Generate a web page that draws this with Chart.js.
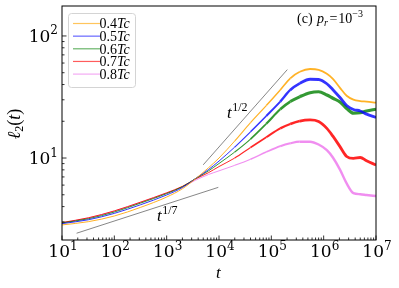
<!DOCTYPE html>
<html>
<head>
<meta charset="utf-8">
<script src="https://cdn.jsdelivr.net/npm/chart.js@4.4.0/dist/chart.umd.min.js"></script>
<style>
  html, body { margin: 0; padding: 0; background: #fff; }
</style>
</head>
<body>
<canvas id="chart" width="399" height="288"></canvas>
<script>
// time grid (x) and l2(t) for each temperature
const tValues = [10, 32, 100, 316, 1000, 2000, 3550, 6300, 1e4, 2e4, 4e4, 8e4, 1.48e5, 2.3e5,
  3.5e5, 5.5e5, 8e5, 1.15e6, 1.5e6, 2.05e6, 2.75e6, 3.7e6, 5e6, 6.6e6, 1e7];

const l2_04 = [2.83, 3.01, 3.35, 3.94, 4.79, 5.60, 6.76, 8.32, 10.0, 13.8, 19.5, 26.9, 36.1, 45,
  50.9, 53.6, 52.8, 49, 44.5, 37.6, 32.4, 30.1, 29.3, 29, 28.4];
const l2_05 = [2.90, 3.12, 3.52, 4.14, 4.98, 5.73, 6.78, 8.04, 9.44, 12.3, 16.4, 22.1, 29, 36.1,
  40.9, 44.2, 44, 40.6, 36.3, 31.3, 26.9, 25, 24.3, 22.9, 21.5];
const l2_06 = [2.94, 3.18, 3.61, 4.27, 5.11, 5.82, 6.78, 7.85, 9.02, 11.2, 14.3, 19.1, 25.1, 29,
  31.8, 34.3, 34.9, 32.8, 30.9, 28.8, 25.5, 23.3, 23.5, 24.3, 25.1];
const l2_07 = [2.96, 3.24, 3.69, 4.35, 5.19, 5.86, 6.73, 7.59, 8.51, 10, 12.2, 14.8, 17.5, 19,
  20.1, 20.5, 19.9, 17.5, 15.1, 12.4, 10.3, 9.93, 10.1, 9.51, 8.75];
const l2_08 = [2.95, 3.22, 3.67, 4.33, 5.16, 5.81, 6.58, 7.33, 7.85, 8.71, 9.77, 11.2, 12.5, 13.2,
  13.6, 13.6, 12.9, 11.6, 10.1, 8.04, 6.19, 5.15, 5.05, 4.98, 4.88];

const seriesLabels = ['0.4', '0.5', '0.6', '0.7', '0.8'];

// guide lines
const guideHalfT = [5000, 2.02e5];
const guideHalfV = [8.8, 53];
const guideSeventhT = [19, 9700];
const guideSeventhV = [2.42, 5.75];

// tick decades
const xDecades = [1, 2, 3, 4, 5, 6, 7];
const yDecades = [1, 2];

const colors = ['rgba(255,165,0,0.85)', 'rgba(0,0,255,0.8)', 'rgba(0,128,0,0.8)',
  'rgba(255,0,0,0.85)', 'rgba(238,130,238,0.9)'];
const noiseWidth = [1.8, 2.8, 3.2, 2.8, 2.4];

function pts(xs, ys) {
  return xs.map((x, i) => ({ x: x, y: ys[i] }));
}

function curve(label, values, i) {
  return {
    label: label,
    data: pts(tValues, values),
    borderColor: colors[i],
    borderWidth: 1,
    pointRadius: 0,
    cubicInterpolationMode: 'monotone',
    segment: {
      borderWidth: c => {
        const lt = Math.log10(c.p0.parsed.x);
        if (lt < 4.2) return 1;
        return Math.min(noiseWidth[i], 1 + (lt - 4.2) * (noiseWidth[i] - 1) / 1.3);
      }
    }
  };
}

function guide(xs, ys) {
  return {
    label: '',
    data: pts(xs, ys),
    borderColor: 'rgba(40,40,40,0.8)',
    borderWidth: 0.7,
    pointRadius: 0
  };
}

const serif = '"Liberation Serif", "Times New Roman", serif';
const tickFont = '"DejaVu Serif", serif';

function drawRuns(ctx, runs, x, y) {
  runs.forEach(r => {
    ctx.font = r.font;
    ctx.fillText(r.text, x, y + (r.dy || 0));
    x += ctx.measureText(r.text).width + (r.gap || 0);
  });
  return x;
}

function runsWidth(ctx, runs) {
  let w = 0;
  runs.forEach(r => { ctx.font = r.font; w += ctx.measureText(r.text).width + (r.gap || 0); });
  return w;
}

function powRuns(e) {
  return [{ text: '10', font: '17px ' + tickFont }, { text: String(e), font: '12px ' + tickFont, dy: -7.5 }];
}

const decorations = {
  id: 'decorations',
  afterDraw(chart) {
    const { ctx, chartArea: a, scales: { x, y } } = chart;
    ctx.save();
    ctx.fillStyle = '#000';
    ctx.strokeStyle = '#000';

    // inward ticks
    ctx.lineWidth = 0.8;
    for (let d = 0; d <= 7; d++) {
      for (let m = 1; m <= 9; m++) {
        const v = m * Math.pow(10, d);
        const len = m === 1 ? 4.5 : 2.5;
        if (v >= x.min && v <= x.max) {
          const px = x.getPixelForValue(v);
          ctx.beginPath(); ctx.moveTo(px, a.bottom); ctx.lineTo(px, a.bottom - len); ctx.stroke();
        }
        if (v >= y.min && v <= y.max) {
          const py = y.getPixelForValue(v);
          ctx.beginPath(); ctx.moveTo(a.left, py); ctx.lineTo(a.left + len, py); ctx.stroke();
        }
      }
    }

    // frame
    ctx.lineWidth = 1;
    ctx.strokeRect(a.left, a.top, a.right - a.left, a.bottom - a.top);

    // tick labels
    xDecades.forEach(e => {
      const runs = powRuns(e);
      const w = runsWidth(ctx, runs);
      drawRuns(ctx, runs, x.getPixelForValue(Math.pow(10, e)) - w / 2 + 1, 257);
    });
    yDecades.forEach(e => {
      const runs = powRuns(e);
      const w = runsWidth(ctx, runs);
      drawRuns(ctx, runs, a.left - 4 - w, y.getPixelForValue(Math.pow(10, e)) + 6);
    });

    // axis titles
    ctx.font = 'italic 17px ' + serif;
    ctx.fillText('t', (a.left + a.right) / 2 - 3, 278);

    const ylab = [
      { text: 'ℓ', font: 'italic 18px ' + serif },
      { text: '2', font: '12px ' + serif, dy: 3 },
      { text: '(', font: '18px ' + serif },
      { text: 't', font: 'italic 18px ' + serif },
      { text: ')', font: '18px ' + serif }
    ];
    ctx.save();
    ctx.translate(20, 124);
    ctx.rotate(-Math.PI / 2);
    drawRuns(ctx, ylab, -runsWidth(ctx, ylab) / 2, 0);
    ctx.restore();

    // guide annotations
    drawRuns(ctx, [{ text: 't', font: 'italic 17px ' + serif, gap: 0.5 },
      { text: '1/2', font: '12px ' + serif, dy: -7 }], 227, 118);
    drawRuns(ctx, [{ text: 't', font: 'italic 17px ' + serif, gap: 0.5 },
      { text: '1/7', font: '12px ' + serif, dy: -7 }], 157, 221);

    // panel label
    drawRuns(ctx, [
      { text: '(c) ', font: '14px ' + serif, gap: 1 },
      { text: 'p', font: 'italic 14px ' + serif },
      { text: 'r', font: 'italic 10px ' + serif, dy: 3, gap: 1.5 },
      { text: '=', font: '14px ' + serif, gap: 1 },
      { text: '10', font: '14px ' + serif },
      { text: '−3', font: '10px ' + serif, dy: -6 }
    ], 297, 23);

    // legend
    ctx.beginPath();
    ctx.roundRect(68.5, 13.5, 67, 74, 3);
    ctx.fillStyle = 'rgba(255,255,255,0.8)';
    ctx.fill();
    ctx.strokeStyle = '#d4d4d4';
    ctx.lineWidth = 1;
    ctx.stroke();
    seriesLabels.forEach((lab, i) => {
      const ry = 23.5 + i * 12.65;
      ctx.strokeStyle = colors[i];
      ctx.globalAlpha = 0.75;
      ctx.lineWidth = 1.2;
      ctx.beginPath(); ctx.moveTo(73, ry); ctx.lineTo(100, ry); ctx.stroke();
      ctx.globalAlpha = 1;
      ctx.fillStyle = '#000';
      drawRuns(ctx, [{ text: lab, font: '14px ' + serif },
        { text: 'Tc', font: 'italic 14px ' + serif }], 99.5, ry + 4.8);
    });
    ctx.restore();
  }
};

new Chart(document.getElementById('chart'), {
  type: 'line',
  data: {
    datasets: [
      curve(seriesLabels[0] + 'Tc', l2_04, 0),
      curve(seriesLabels[1] + 'Tc', l2_05, 1),
      curve(seriesLabels[2] + 'Tc', l2_06, 2),
      curve(seriesLabels[3] + 'Tc', l2_07, 3),
      curve(seriesLabels[4] + 'Tc', l2_08, 4),
      guide(guideHalfT, guideHalfV),
      guide(guideSeventhT, guideSeventhV)
    ]
  },
  options: {
    responsive: false,
    animation: false,
    devicePixelRatio: 1,
    layout: { padding: { top: 6, right: 23, left: 0, bottom: 0 } },
    plugins: { legend: { display: false }, tooltip: { enabled: false } },
    scales: {
      x: {
        type: 'logarithmic', min: 10, max: 1e7,
        ticks: { display: false }, grid: { display: false }, border: { display: false },
        afterFit: s => { s.height = 48; }
      },
      y: {
        type: 'logarithmic', min: 2.13, max: 176,
        ticks: { display: false }, grid: { display: false }, border: { display: false },
        afterFit: s => { s.width = 62; }
      }
    }
  },
  plugins: [decorations]
});
</script>
</body>
</html>
